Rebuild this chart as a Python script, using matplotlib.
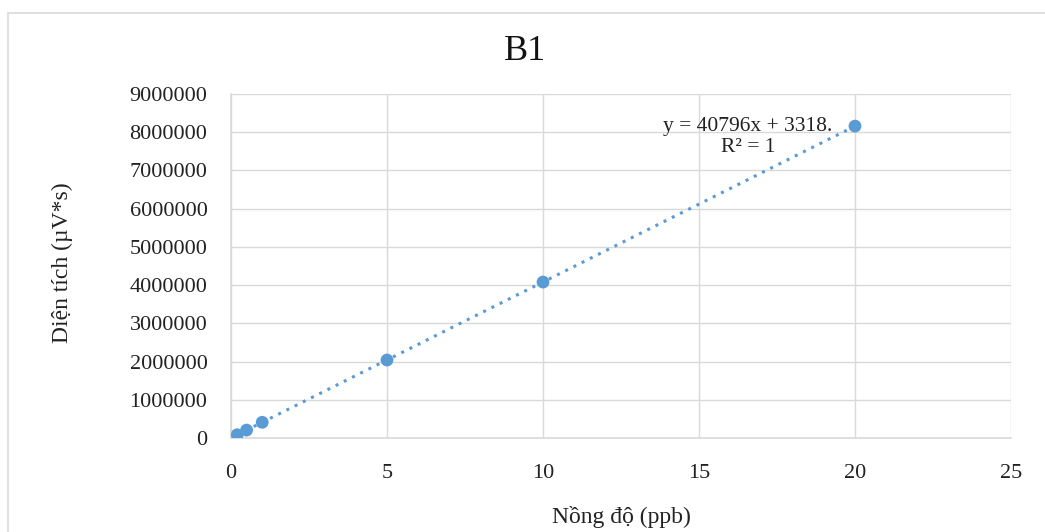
import matplotlib
matplotlib.use("Agg")
import matplotlib.pyplot as plt
import numpy as np
from matplotlib.patches import Rectangle

conc = [0.2, 0.5, 1, 5, 10, 20]
area = [85000, 207000, 411000, 2040000, 4080000, 8160000]
x_ticks = [0, 5, 10, 15, 20, 25]
y_ticks = [0, 1000000, 2000000, 3000000, 4000000, 5000000, 6000000, 7000000, 8000000, 9000000]
title = "B1"
xlabel = "Nồng độ (ppb)"
ylabel = "Diện tích (µV*s)"
eq_text = "y = 40796x + 3318.\nR² = 1"

plt.rcParams['font.family'] = ['Liberation Serif', 'DejaVu Serif']
blue = '#5b9bd5'
grid = '#d9d9d9'

fig = plt.figure(figsize=(10.45, 5.32), dpi=100)
ax = fig.add_axes([231/1045, 1-438/532, (1011-231)/1045, (438-94)/532])

# trendline
coef = np.polyfit(conc, area, 1)
xs = np.array([min(conc), max(conc)])
ax.plot(xs, np.polyval(coef, xs), linestyle=(0, (1, 2)), color=blue, lw=2.2, zorder=2)
ax.scatter(conc, area, s=85, color=blue, zorder=3, edgecolors='none')

ax.set_xlim(0, 25)
ax.set_ylim(0, 9000000)
ax.set_xticks(x_ticks)
ax.set_yticks(y_ticks)
ax.set_xticklabels([str(v) for v in x_ticks])
ax.set_yticklabels([str(v) for v in y_ticks])
ax.tick_params(length=0, labelsize=16, labelcolor='#222222')
ax.tick_params(axis='x', pad=19)
ax.tick_params(axis='y', pad=17)
ax.grid(True, color=grid, lw=1)
ax.set_axisbelow(True)
for s in ['top', 'right']:
    ax.spines[s].set_visible(False)
for s in ['left', 'bottom']:
    ax.spines[s].set_color(grid)
    ax.spines[s].set_linewidth(1.2)

fig.text(525/1045, 1-52/532, title, ha='center', va='center', fontsize=26, color='#111111')
fig.text(621/1045, 1-517/532, xlabel, ha='center', va='center', fontsize=17, color='#222222')
fig.text(62/1045, 1-263/532, ylabel, ha='center', va='center', rotation=90, fontsize=17, color='#222222')
fig.text(748/1045, 1-137/532, eq_text, ha='center', va='center', fontsize=15.5, linespacing=1.15,
         color='#222222')

fig.patches.append(Rectangle((8/1045, -0.1), 1.2, 1-13/532+0.1, transform=fig.transFigure,
                             fill=False, edgecolor='#d9d9d9', lw=1.2))

fig.savefig("out.png", dpi=100)
